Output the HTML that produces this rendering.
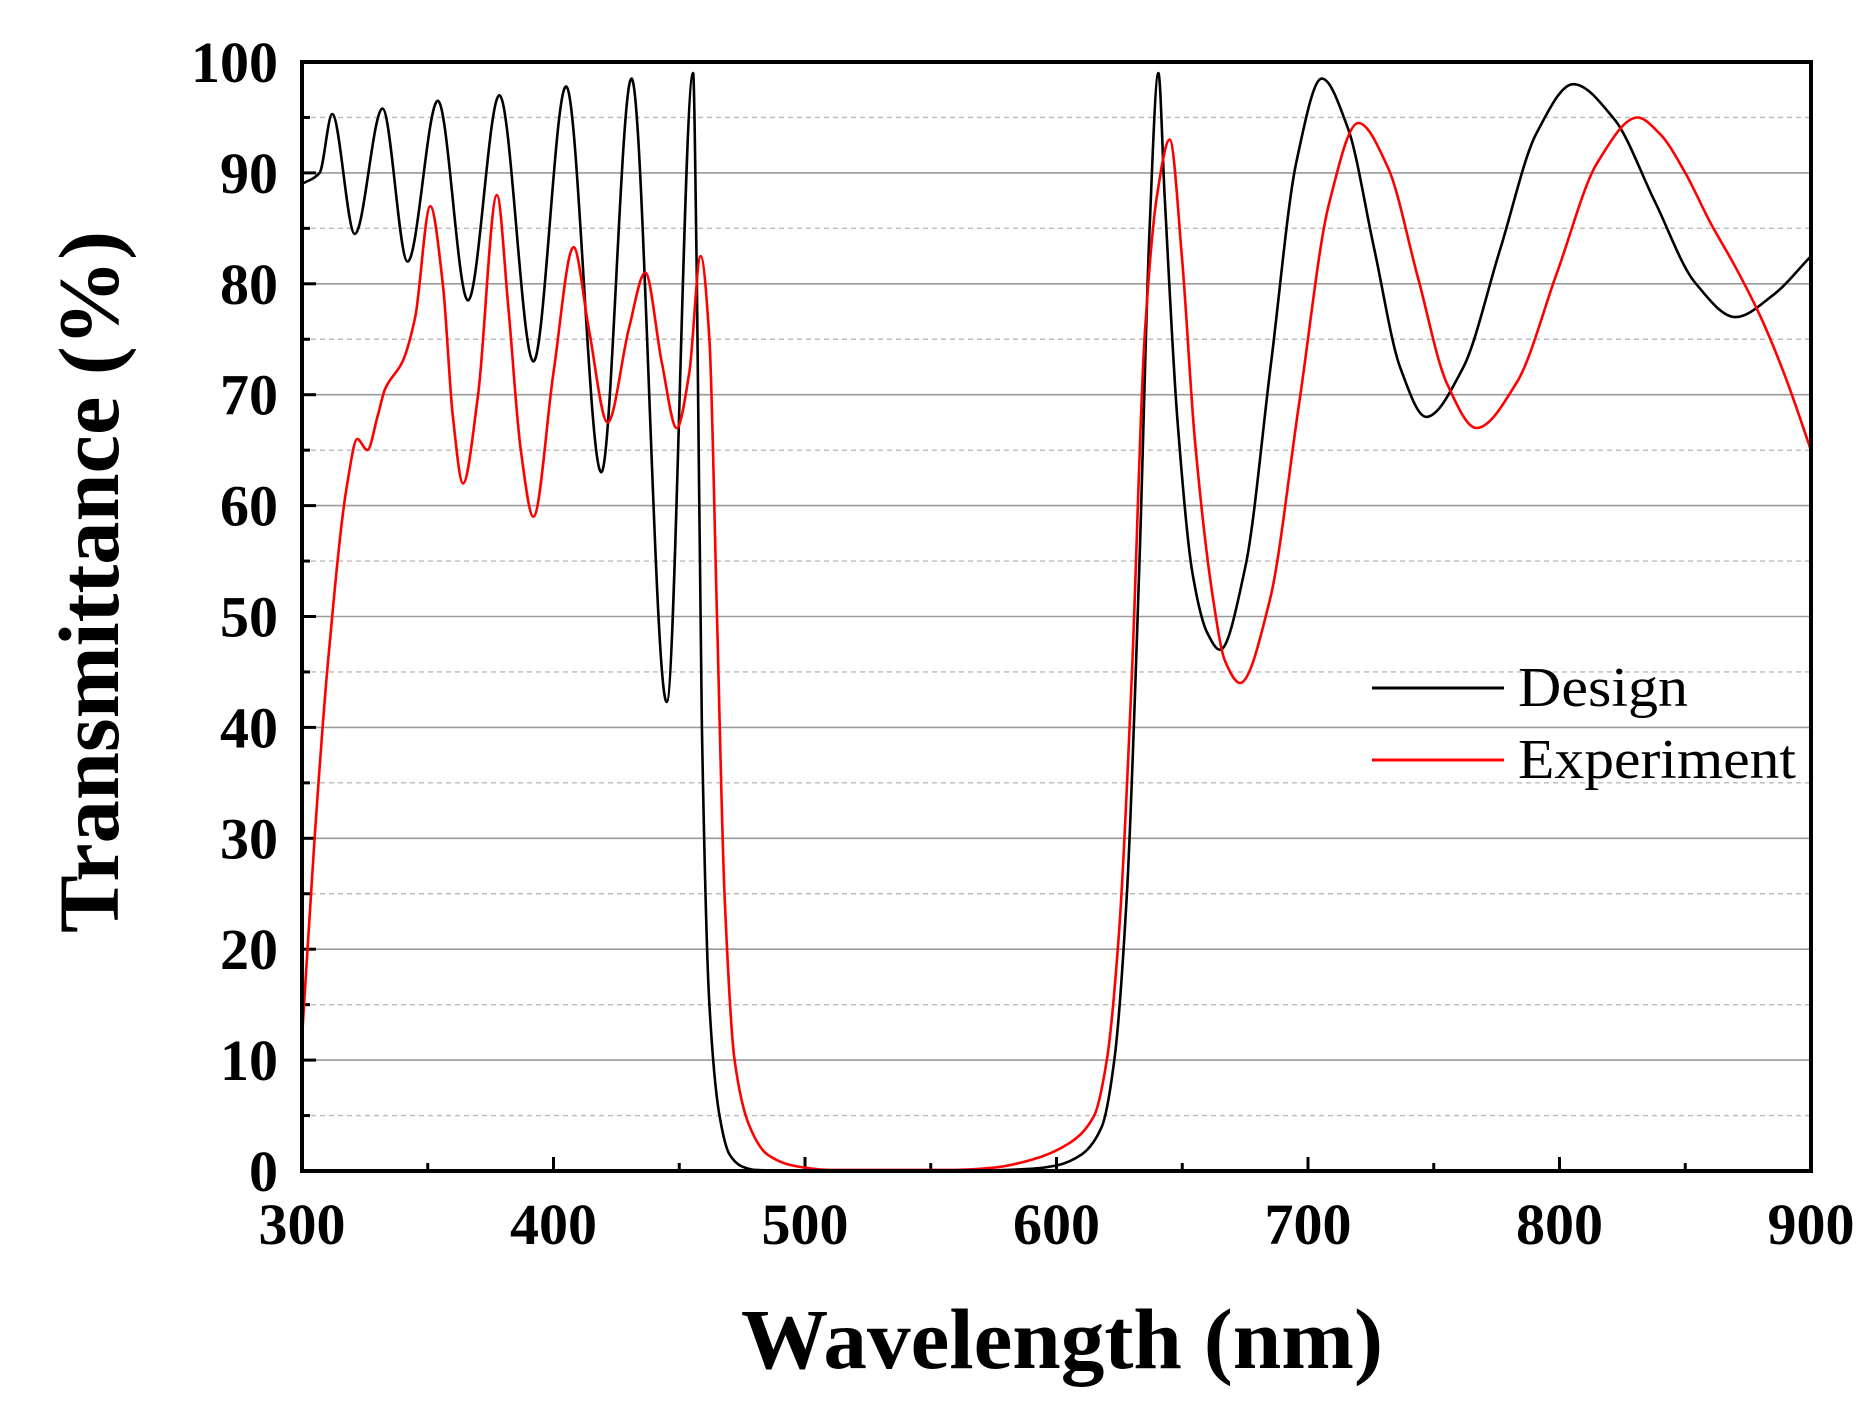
<!DOCTYPE html>
<html><head><meta charset="utf-8"><style>html,body{margin:0;padding:0;background:#fff;}svg{display:block}</style></head>
<body>
<svg id="s" width="1876" height="1423" xmlns="http://www.w3.org/2000/svg" font-family="Liberation Serif, serif">
<g id="grid"></g>
<g id="ticks"></g>
<path id="blk" fill="none" stroke="#000" stroke-width="2.6"/>
<path id="red" fill="none" stroke="#f00" stroke-width="2.6"/>
<rect x="302" y="62" width="1509" height="1109" fill="none" stroke="#000" stroke-width="4"/>
<g id="labels" font-weight="bold" font-size="58"></g>
<text x="1062" y="1368" font-size="86" font-weight="bold" text-anchor="middle" textLength="642" lengthAdjust="spacingAndGlyphs">Wavelength (nm)</text>
<text transform="translate(118,582) rotate(-90)" font-size="86" font-weight="bold" text-anchor="middle" textLength="702" lengthAdjust="spacingAndGlyphs">Transmittance (%)</text>
<line x1="1372" y1="688" x2="1504" y2="688" stroke="#000" stroke-width="3"/>
<line x1="1372" y1="760" x2="1504" y2="760" stroke="#f00" stroke-width="3"/>
<text x="1518" y="706" font-size="56" textLength="170" lengthAdjust="spacingAndGlyphs">Design</text>
<text x="1518" y="778" font-size="56" textLength="278" lengthAdjust="spacingAndGlyphs">Experiment</text>
</svg>
<script>
var X0=302,X1=1811,Y0=1171,Y1=62;
function px(n){return X0+(n-300)/600*(X1-X0);}
function py(v){return Y0-v/100*(Y0-Y1);}
var ns="http://www.w3.org/2000/svg";
function el(p,t,a,txt){var e=document.createElementNS(ns,t);for(var k in a)e.setAttribute(k,a[k]);if(txt!==undefined)e.textContent=txt;document.getElementById(p).appendChild(e);}
for(var v=5;v<100;v+=5){var y=py(v);
 if(v%10==0)el("grid","line",{x1:X0,x2:X1,y1:y,y2:y,stroke:"#9a9a9a","stroke-width":1.6});
 else el("grid","line",{x1:X0,x2:X1,y1:y,y2:y,stroke:"#bbb","stroke-width":1.4,"stroke-dasharray":"5,4"});}
for(var v=0;v<=100;v+=5){var y=py(v);el("ticks","line",{x1:X0,x2:X0+(v%10?8:14),y1:y,y2:y,stroke:"#000","stroke-width":3});
 if(v%10==0)el("labels","text",{x:278,y:y+20,"text-anchor":"end"},String(v));}
for(var n=300;n<=900;n+=50){var x=px(n);el("ticks","line",{x1:x,x2:x,y1:Y0,y2:Y0-(n%100?8:14),stroke:"#000","stroke-width":3});
 if(n%100==0)el("labels","text",{x:x,y:1244,"text-anchor":"middle"},String(n));}
function mono(P){var n=P.length,xs=P.map(p=>p[0]),ys=P.map(p=>p[1]),d=[],m=[];
 for(var i=0;i<n-1;i++)d.push((ys[i+1]-ys[i])/(xs[i+1]-xs[i]));
 m[0]=d[0];m[n-1]=d[n-2];
 for(var i=1;i<n-1;i++){if(d[i-1]*d[i]<=0)m[i]=0;else{var w1=2*(xs[i+1]-xs[i])+(xs[i]-xs[i-1]),w2=(xs[i+1]-xs[i])+2*(xs[i]-xs[i-1]);m[i]=(w1+w2)/(w1/d[i-1]+w2/d[i]);}}
 var s="M"+px(xs[0]).toFixed(1)+","+py(ys[0]).toFixed(1);
 for(var i=0;i<n-1;i++){var h=xs[i+1]-xs[i];
  s+="C"+px(xs[i]+h/3).toFixed(1)+","+py(ys[i]+m[i]*h/3).toFixed(1)+" "+px(xs[i+1]-h/3).toFixed(1)+","+py(ys[i+1]-m[i+1]*h/3).toFixed(1)+" "+px(xs[i+1]).toFixed(1)+","+py(ys[i+1]).toFixed(1);}
 return s;}
var B=[[300,89],[307,90],[312,95.3],[321,84.5],[332,95.8],[342,82],[354,96.5],[366,78.5],[378.5,97],[392,73],[405,97.8],[419,63],[431,98.5],[445,42.3],[455.5,99],[457,80],[459,40],[462,15],[466,5],[470,1.5],[475,0.4],[480,0.1],[500,0],[560,0],[590,0.2],[600,0.5],[610,1.5],[618,4],[623,10],[628,25],[633,55],[637,85],[640.5,99],[643,88],[648,68],[654,54],[660,48.5],[665,47],[675.1,54.5],[685.25,72.75],[695.4,91],[705.5,98.5],[715.9,94],[726.25,83.25],[736.6,72.5],[747,68],[761.6,72.4],[776.25,83],[790.9,93.6],[805.5,98],[821.6,94.9],[837.75,87.5],[853.9,80.1],[870,77],[885,79],[900,82.5]];
var R=[[300,12],[305,30],[310,45],[318,62],[322,66],[326,65],[330,68],[333,70.5],[340,73],[345,77],[351,87],[356,80],[360,68],[364,62],[370,70],[377.5,88],[382,78],[387,65],[392,59],[400,72],[408,83.3],[414,76],[421.5,67.5],[430,76],[436.5,81],[443,73],[449,67],[454,72],[458.5,82.5],[462,75],[465,50],[468,25],[472,10],[478,4],[485,1.5],[495,0.5],[510,0.1],[560,0.1],[575,0.3],[590,1],[605,2.5],[615,5],[620,10],[625,22],[630,45],[635,75],[640,88],[645,93],[650,82],[655,66],[662,52],[667,46],[673,44],[684.75,51.4],[696.5,69.25],[708.25,87.1],[720,94.5],[731.75,90.5],[743.5,80.75],[755.25,71],[767,67],[783,71.1],[799,81],[815,90.9],[831,95],[840,93.5],[850,90],[860,85.5],[870,81.5],[880,77],[890,71.5],[900,65]];
document.getElementById("blk").setAttribute("d",mono(B));
document.getElementById("red").setAttribute("d",mono(R));
</script>
</body></html>
